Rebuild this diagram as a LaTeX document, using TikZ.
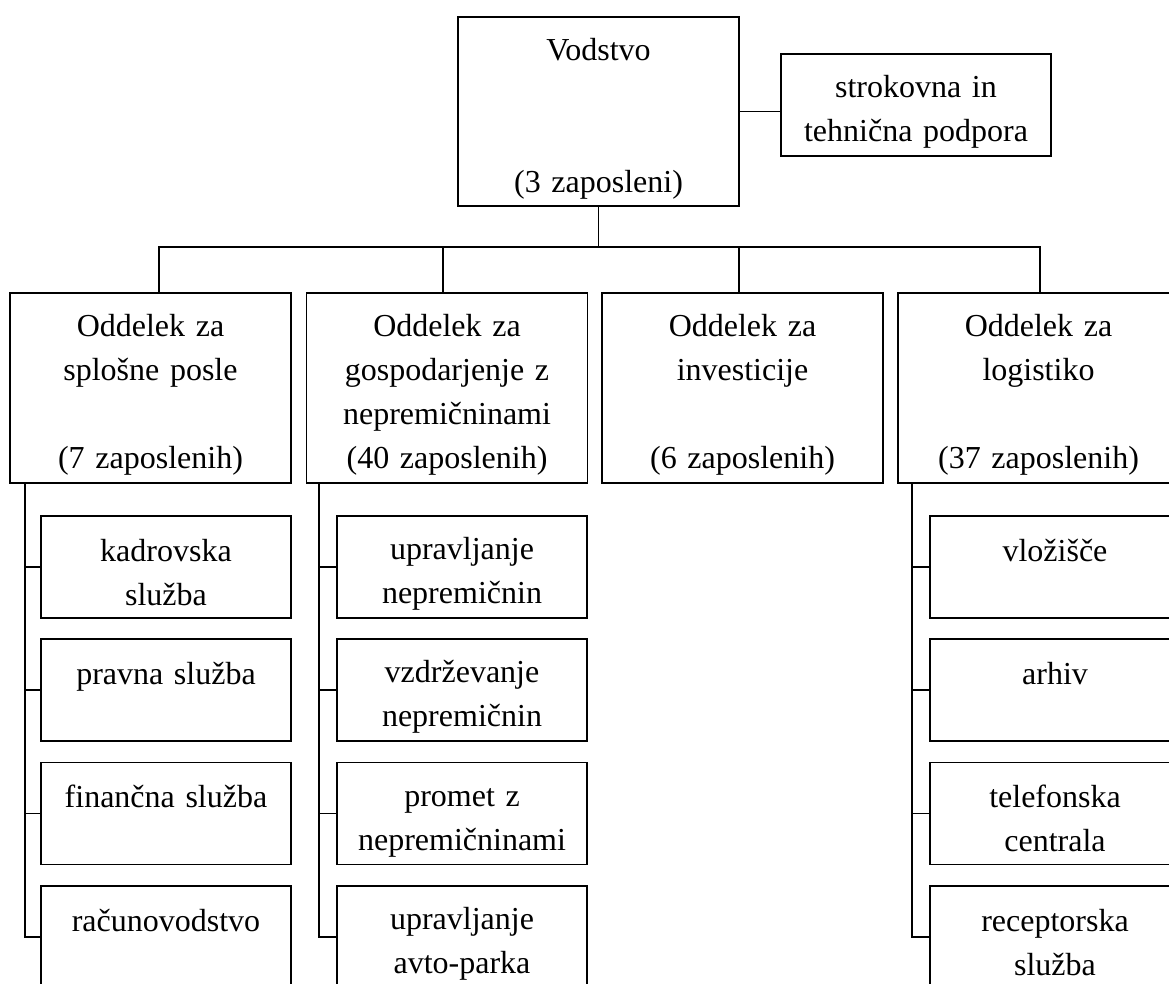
\documentclass[tikz,border=0pt]{standalone}
\usepackage{fontspec}
\setmainfont{Liberation Serif}
\newcommand{\Sx}{\rule[-4pt]{0pt}{40pt}}
\begin{document}
\begin{tikzpicture}[x=1pt,y=-1pt,
  box/.style={draw, line width=1.9pt, rectangle, align=center, inner sep=0pt,
    font=\fontsize{32}{44}\selectfont},
  topbox/.style={box, minimum width=281pt, minimum height=189pt, text width=275pt},
  strokbox/.style={box, minimum width=270pt, minimum height=102pt, text width=264pt},
  deptbox/.style={box, minimum width=281pt, minimum height=190pt, text width=275pt},
  subbox/.style={box, minimum width=250pt, minimum height=102pt, text width=246pt},
  conn/.style={line width=1.9pt, line join=miter}]
\useasboundingbox (0,0) rectangle (1169,983);
\clip (0,0) rectangle (1169,983);

% top level
\node[topbox] (vod) at (598.5,111.5) {\Sx Vodstvo\\ \Sx\\ \Sx\\ \Sx(3 zaposleni)};
\node[strokbox] (strok) at (916,105) {\Sx strokovna in\\ \Sx tehnična podpora};

% departments
\node[deptbox] (o1) at (150.5,388) {\Sx Oddelek za\\ \Sx splošne posle\\ \Sx\\ \Sx(7 zaposlenih)};
\node[deptbox] (o2) at (447,388) {\Sx Oddelek za\\ \Sx gospodarjenje z\\ \Sx nepremičninami\\ \Sx(40 zaposlenih)};
\node[deptbox] (o3) at (742.5,388) {\Sx Oddelek za\\ \Sx investicije\\ \Sx\\ \Sx(6 zaposlenih)};
\node[deptbox] (o4) at (1038.5,388) {\Sx Oddelek za\\ \Sx logistiko\\ \Sx\\ \Sx(37 zaposlenih)};

% sub units column 1
\node[subbox] (s11) at (166,567) {\Sx kadrovska\\ \Sx služba};
\node[subbox] (s12) at (166,690) {\Sx pravna služba\\ \Sx};
\node[subbox] (s13) at (166,813.5) {\Sx finančna služba\\ \Sx};
\node[subbox] (s14) at (166,937) {\Sx računovodstvo\\ \Sx};
% column 2
\node[subbox] (s21) at (462,567) {\Sx upravljanje\\ \Sx nepremičnin};
\node[subbox] (s22) at (462,690) {\Sx vzdrževanje\\ \Sx nepremičnin};
\node[subbox] (s23) at (462,813.5) {\Sx promet z\\ \Sx nepremičninami};
\node[subbox] (s24) at (462,937) {\Sx upravljanje\\ \Sx avto-parka};
% column 4
\node[subbox] (s41) at (1055,567) {\Sx vložišče\\ \Sx};
\node[subbox] (s42) at (1055,690) {\Sx arhiv\\ \Sx};
\node[subbox] (s43) at (1055,813.5) {\Sx telefonska\\ \Sx centrala};
\node[subbox] (s44) at (1055,937) {\Sx receptorska\\ \Sx služba};

% connectors
\draw[conn] (vod.east) -- (vod.east -| strok.west);
\coordinate (bus) at (0,247);
\coordinate (t1) at (159,247);
\coordinate (t2) at (443,247);
\coordinate (t3) at (739,247);
\coordinate (t4) at (1040,247);
\draw[conn] (vod.south) -- (vod.south |- bus);
\draw[conn] (t1 |- o1.north) -- (t1) -- (t4) -- (t4 |- o4.north);
\draw[conn] (t2) -- (t2 |- o2.north);
\draw[conn] (t3) -- (t3 |- o3.north);

\coordinate (c1) at (25,0);
\coordinate (c2) at (319,0);
\coordinate (c4) at (912,0);
\draw[conn] (o1.south -| c1) -- (s14.west -| c1) -- (s14.west);
\draw[conn] (s11.west -| c1) -- (s11.west);
\draw[conn] (s12.west -| c1) -- (s12.west);
\draw[conn] (s13.west -| c1) -- (s13.west);
\draw[conn] (o2.south -| c2) -- (s24.west -| c2) -- (s24.west);
\draw[conn] (s21.west -| c2) -- (s21.west);
\draw[conn] (s22.west -| c2) -- (s22.west);
\draw[conn] (s23.west -| c2) -- (s23.west);
\draw[conn] (o4.south -| c4) -- (s44.west -| c4) -- (s44.west);
\draw[conn] (s41.west -| c4) -- (s41.west);
\draw[conn] (s42.west -| c4) -- (s42.west);
\draw[conn] (s43.west -| c4) -- (s43.west);
\end{tikzpicture}
\end{document}
